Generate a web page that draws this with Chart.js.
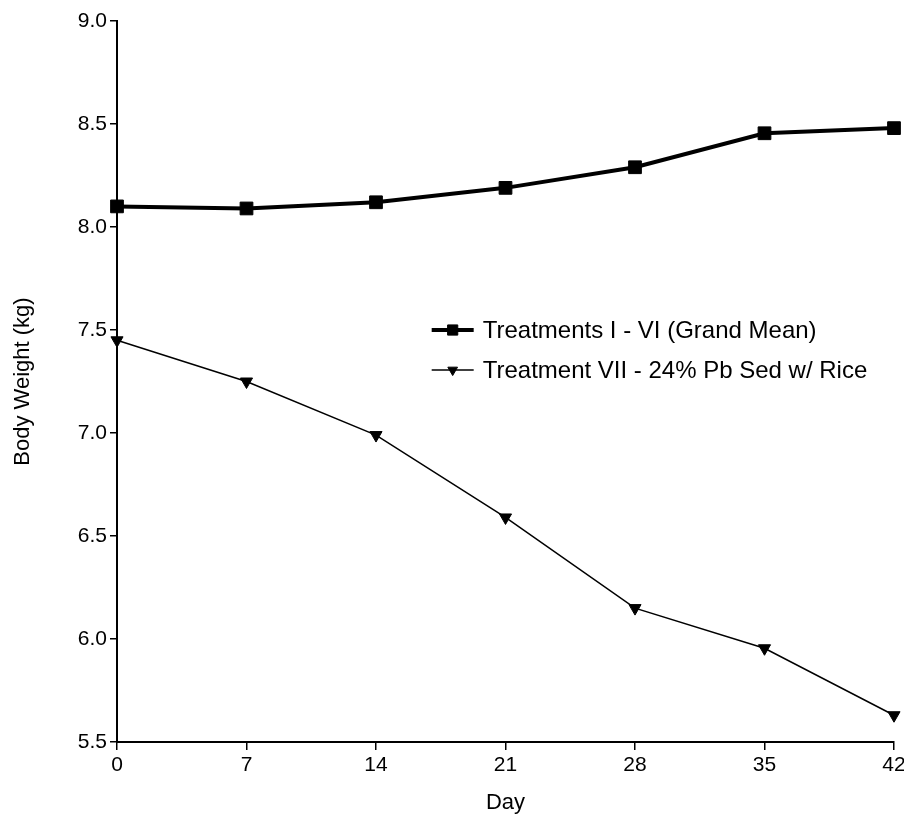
<!DOCTYPE html>
<html>
<head>
<meta charset="utf-8">
<script src="https://cdn.jsdelivr.net/npm/chart.js@4.4.1/dist/chart.umd.min.js"></script>
<style>
  html, body { margin: 0; padding: 0; background: #fff; }
  #wrap { width: 904px; height: 816px; }
</style>
</head>
<body>
<div id="wrap"><canvas id="bwChart" width="904" height="816"></canvas></div>
<script>
var days = [0, 7, 14, 21, 28, 35, 42];
var grandMean = [8.10, 8.09, 8.12, 8.19, 8.29, 8.455, 8.48];
var treatment7 = [7.45, 7.25, 6.99, 6.59, 6.15, 5.955, 5.63];
var yTicks = [5.5, 6.0, 6.5, 7.0, 7.5, 8.0, 8.5, 9.0];
var seriesNames = ["Treatments I - VI (Grand Mean)", "Treatment VII - 24% Pb Sed w/ Rice"];

var FONT = "'Liberation Sans', Arial, sans-serif";

// legend drawn inside the plot, like the original
var insideLegend = {
    id: "insideLegend",
    afterDraw: function (chart) {
        var c = chart.ctx;
        var area = chart.chartArea;
        var x0 = area.left + (area.right - area.left) * 0.405;
        var rows = [0.4286, 0.484];
        chart.data.datasets.forEach(function (ds, i) {
            var y = area.top + (area.bottom - area.top) * rows[i];
            c.save();
            c.strokeStyle = "#000";
            c.fillStyle = "#000";
            c.lineWidth = ds.borderWidth;
            c.beginPath();
            c.moveTo(x0, y);
            c.lineTo(x0 + 42, y);
            c.stroke();
            c.lineWidth = 1;
            Chart.helpers.drawPoint(c, {
                pointStyle: ds.pointStyle,
                rotation: ds.pointRotation || 0,
                radius: ds.pointRadius * 0.8,
                borderWidth: 1
            }, x0 + 21, y);
            c.font = "24px " + FONT;
            c.textBaseline = "middle";
            c.textAlign = "left";
            c.fillText(ds.label, x0 + 51, y + 1);
            c.restore();
        });
    }
};

var ctx = document.getElementById("bwChart").getContext("2d");
var myChart = new Chart(ctx, {
    type: "line",
    data: {
        datasets: [
            {
                label: seriesNames[0],
                data: days.map(function (d, i) { return { x: d, y: grandMean[i] }; }),
                borderColor: "#000",
                backgroundColor: "#000",
                borderWidth: 4,
                pointStyle: "rect",
                pointRadius: 9,
                pointBorderWidth: 1,
                tension: 0,
                clip: false
            },
            {
                label: seriesNames[1],
                data: days.map(function (d, i) { return { x: d, y: treatment7[i] }; }),
                borderColor: "#000",
                backgroundColor: "#000",
                borderWidth: 1.5,
                pointStyle: "triangle",
                pointRotation: 180,
                pointRadius: 7,
                pointBorderWidth: 1,
                tension: 0,
                clip: false
            }
        ]
    },
    options: {
        responsive: false,
        animation: false,
        layout: { padding: { top: 21, right: 10, left: 0, bottom: 0 } },
        plugins: {
            legend: { display: false },
            tooltip: { enabled: false }
        },
        scales: {
            x: {
                type: "linear",
                min: 0,
                max: 42,
                afterBuildTicks: function (axis) {
                    axis.ticks = days.map(function (d) { return { value: d }; });
                },
                ticks: {
                    color: "#000",
                    font: { family: FONT, size: 21 },
                    padding: 3
                },
                grid: {
                    drawOnChartArea: false,
                    drawTicks: true,
                    tickLength: 8,
                    color: "#000",
                    lineWidth: 1.5
                },
                border: { display: true, color: "#000", width: 2 },
                title: {
                    display: true,
                    text: "Day",
                    color: "#000",
                    font: { family: FONT, size: 22 },
                    padding: { top: 12, bottom: 0 }
                },
                afterFit: function (axis) {
                    axis.height = 74;
                    axis.paddingRight = 4;
                    axis.paddingLeft = 4;
                }
            },
            y: {
                type: "linear",
                min: 5.5,
                max: 9.0,
                afterBuildTicks: function (axis) {
                    axis.ticks = yTicks.map(function (v) { return { value: v }; });
                },
                ticks: {
                    color: "#000",
                    font: { family: FONT, size: 21 },
                    padding: 3,
                    callback: function (v) { return Number(v).toFixed(1); }
                },
                grid: {
                    drawOnChartArea: false,
                    drawTicks: true,
                    tickLength: 7,
                    color: "#000",
                    lineWidth: 1.5
                },
                border: { display: true, color: "#000", width: 2 },
                title: {
                    display: true,
                    text: "Body Weight (kg)",
                    color: "#000",
                    font: { family: FONT, size: 22 },
                    padding: { top: 10, bottom: 6 }
                },
                afterFit: function (axis) { axis.width = 117; }
            }
        }
    },
    plugins: [insideLegend]
});
</script>
</body>
</html>
